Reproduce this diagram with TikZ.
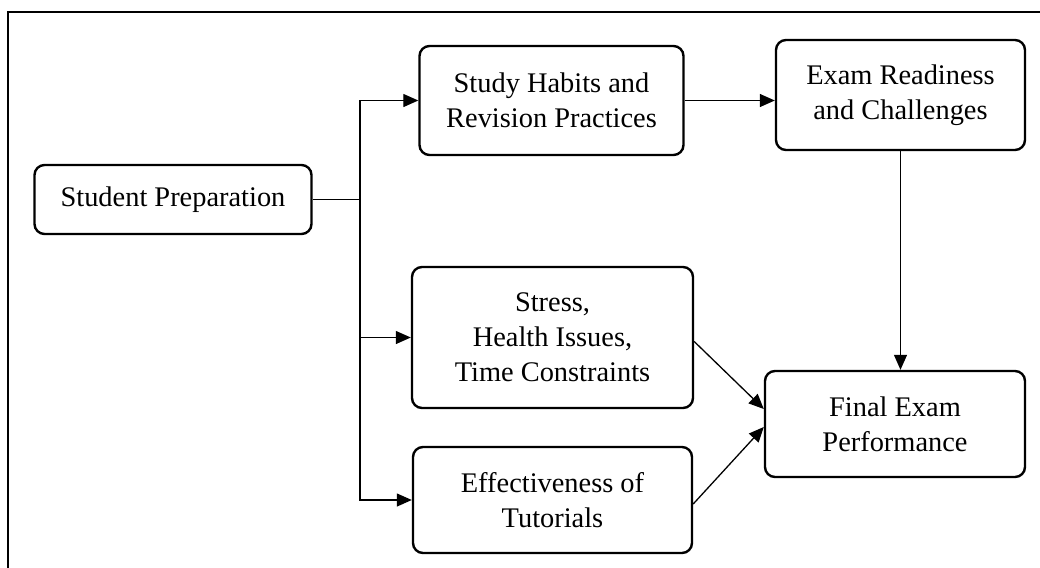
\documentclass[tikz,border=0pt]{standalone}
\usepackage{fontspec}
\setmainfont{Liberation Serif}
\usetikzlibrary{arrows.meta}

\begin{document}
\begin{tikzpicture}[x=0.5pt,y=-0.5pt,every node/.style={align=center,font=\fontsize{14.2}{17.5}\selectfont},box/.style={draw,line width=1.2pt,rounded corners=5pt,inner sep=0pt}, link/.style={line width=0.65pt,-{Triangle[length=7.5pt,width=6.5pt]}}]
		\useasboundingbox (0,0) rectangle (1040,568);
		\draw[line width=1pt] (1040,12) -- (8,12) -- (8,568);
		\node[box,minimum width=138.5pt,minimum height=34.5pt] (prep) at (173,199.5) {Student Preparation};
		\node[box,minimum width=132pt,minimum height=54.5pt] (habits) at (551.5,100.5) {Study Habits and \\ Revision Practices};
		\node[box,minimum width=124.5pt,minimum height=55pt] (ready) at (900.5,95) {Exam Readiness \\ and Challenges};
		\node[box,minimum width=140.5pt,minimum height=70.5pt] (stress) at (552.5,337.5) {Stress, \\ Health Issues, \\ Time Constraints};
		\node[box,minimum width=139.5pt,minimum height=53pt] (tutor) at (552.5,500) {Effectiveness of \\ Tutorials};
		\node[box,minimum width=130pt,minimum height=53pt] (final) at (895,424) {Final Exam \\ Performance};
		\coordinate (split) at (360,199.5);
		\draw[line width=0.65pt] (prep.east) -- (split);
		\draw[link] (split) |- (habits.west);
		\draw[link] (split) |- (stress.west);
		\draw[link] (split) |- (tutor.west);
		\draw[link] (habits.east) -- (habits.east -| ready.west);
		\draw[link] (ready.south) -- (ready.south |- final.north);
		\draw[link] ([yshift=-2pt]stress.east) -- ([yshift=7.5pt]final.west);
		\draw[link] ([yshift=-2pt]tutor.east) -- ([yshift=-1.5pt]final.west);
	\end{tikzpicture}
\end{document}
